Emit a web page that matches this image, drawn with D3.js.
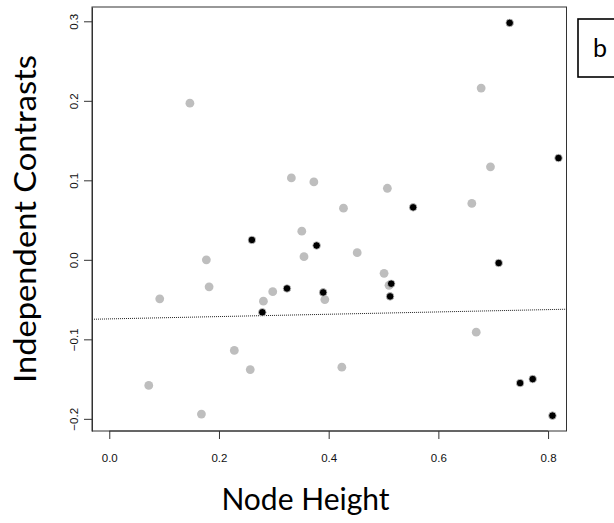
<!DOCTYPE html>
<html>
<head>
<meta charset="utf-8">
<script src="https://cdn.jsdelivr.net/npm/d3@7"></script>
<style>
  html, body { margin: 0; padding: 0; background: #fff; }
  svg { display: block; }
</style>
</head>
<body>
<svg id="chart" width="614" height="523"></svg>
<script>
// ---- data ----
const grayX = [0.147, 0.332, 0.373, 0.678, 0.695, 0.507, 0.661, 0.427, 0.351, 0.177,
               0.355, 0.452, 0.182, 0.092, 0.298, 0.281, 0.393, 0.501, 0.510, 0.669,
               0.228, 0.257, 0.424, 0.072, 0.168];
const grayY = [0.197, 0.103, 0.098, 0.216, 0.117, 0.090, 0.071, 0.065, 0.036, 0.000,
               0.004, 0.009, -0.034, -0.049, -0.040, -0.052, -0.050, -0.017, -0.032, -0.091,
               -0.114, -0.138, -0.135, -0.158, -0.194];
const blackX = [0.730, 0.819, 0.554, 0.260, 0.378, 0.710, 0.514, 0.512, 0.324, 0.390,
                0.279, 0.749, 0.772, 0.808];
const blackY = [0.298, 0.128, 0.066, 0.025, 0.018, -0.004, -0.030, -0.046, -0.036, -0.041,
                -0.066, -0.155, -0.150, -0.196];
const fitIntercept = [-0.0743];
const fitSlope = [0.0146];
const xTicks = [0.0, 0.2, 0.4, 0.6, 0.8];
const yTicks = [-0.2, -0.1, 0.0, 0.1, 0.2, 0.3];
const xTitle = "Node Height";
const yTitle = "Independent Contrasts";
const panelLabel = "b";

// ---- layout ----
const svg = d3.select("#chart");
const L = 92, R = 566.5, T = 7, B = 431;
const x = d3.scaleLinear().domain([-0.0315, 0.8336]).range([L, R]);
const y = d3.scaleLinear().domain([-0.2153, 0.318]).range([B, T]);

const fmt = d3.format(".1f");

// x axis
const xAxis = svg.append("g").attr("transform", `translate(0,${B})`)
  .call(d3.axisBottom(x).tickValues(xTicks).tickSize(8).tickSizeOuter(0).tickFormat(fmt));
xAxis.select(".domain").attr("d", `M${x(xTicks[0])},0H${x(xTicks[xTicks.length-1])}`).attr("stroke", "#333");
xAxis.selectAll(".tick line").attr("stroke", "#333");
xAxis.selectAll(".tick text").attr("y", 31).attr("dy", null)
  .style("font-family", "'Liberation Sans', Arial, sans-serif").style("font-size", "11.5px").attr("fill", "#111");

// y axis
const yAxis = svg.append("g").attr("transform", `translate(${L},0)`)
  .call(d3.axisLeft(y).tickValues(yTicks).tickSize(8).tickSizeOuter(0).tickFormat(fmt));
yAxis.select(".domain").attr("stroke", "#333");
yAxis.selectAll(".tick line").attr("stroke", "#333");
yAxis.selectAll(".tick text")
  .attr("x", null).attr("dy", null)
  .attr("text-anchor", "middle")
  .attr("transform", "translate(-14,0) rotate(-90)")
  .style("font-family", "'Liberation Sans', Arial, sans-serif").style("font-size", "11.5px").attr("fill", "#111");

// box
svg.append("rect").attr("x", L).attr("y", T).attr("width", R - L).attr("height", B - T)
  .attr("fill", "none").attr("stroke", "#333").attr("stroke-width", 1);

// regression line
const xd = x.domain();
svg.append("line")
  .attr("x1", x(xd[0])).attr("y1", y(fitIntercept[0] + fitSlope[0] * xd[0]))
  .attr("x2", x(xd[1])).attr("y2", y(fitIntercept[0] + fitSlope[0] * xd[1]))
  .attr("stroke", "#222").attr("stroke-width", 1).attr("stroke-dasharray", "1,1");

// points
svg.append("g").selectAll("circle").data(grayX.map((v, i) => [v, grayY[i]])).join("circle")
  .attr("cx", d => x(d[0])).attr("cy", d => y(d[1])).attr("r", 4.4)
  .attr("fill", "#bebebe");
svg.append("g").selectAll("circle").data(blackX.map((v, i) => [v, blackY[i]])).join("circle")
  .attr("cx", d => x(d[0])).attr("cy", d => y(d[1])).attr("r", 3.8)
  .attr("fill", "#000").attr("stroke", "#d0d0d0").attr("stroke-width", 0.8);

// titles
svg.append("text").attr("x", 305.5).attr("y", 510).attr("text-anchor", "middle")
  .style("font-family", "Lato, 'Open Sans', sans-serif").style("font-size", "30px").attr("fill", "#000")
  .text(xTitle);
svg.append("text").attr("transform", `translate(36,${(T + B) / 2}) rotate(-90)`).attr("text-anchor", "middle")
  .attr("textLength", 328).attr("lengthAdjust", "spacingAndGlyphs")
  .style("font-family", "Lato, 'Open Sans', sans-serif").style("font-size", "31px").attr("fill", "#000")
  .text(yTitle);

// panel label
svg.append("rect").attr("x", 578).attr("y", 19).attr("width", 60).attr("height", 58)
  .attr("fill", "none").attr("stroke", "#000").attr("stroke-width", 1.6);
svg.append("text").attr("x", 593).attr("y", 57)
  .style("font-family", "Lato, 'Open Sans', sans-serif").style("font-size", "25px").attr("fill", "#000")
  .text(panelLabel);
</script>
</body>
</html>
